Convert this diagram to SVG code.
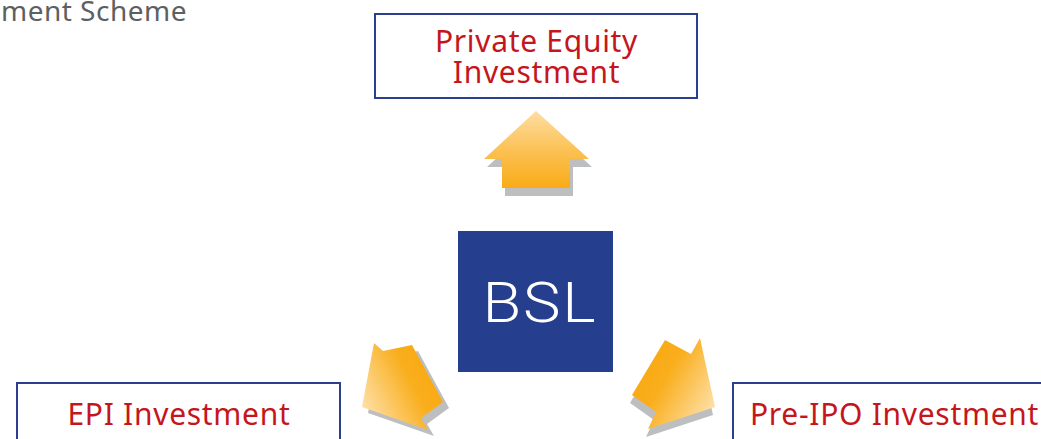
<svg xmlns="http://www.w3.org/2000/svg" width="1041" height="439" viewBox="0 0 1041 439">
<style>
.box{fill:#ffffff;stroke:#2b3f8f;stroke-width:2}
.lbl{font-family:"Noto Sans","Open Sans",sans-serif;font-size:30px;fill:#c4161c;letter-spacing:0.7px}
.shadow{fill:#bdbec0}
.title{font-family:"Noto Sans","Liberation Sans",sans-serif;font-size:28px;fill:#5e5f61;letter-spacing:0.5px}
</style>
<defs>
<linearGradient id="gTop" gradientUnits="userSpaceOnUse" x1="536" y1="111" x2="536" y2="188">
<stop offset="0" stop-color="#fedda2"/><stop offset="0.55" stop-color="#fbbf4f"/><stop offset="1" stop-color="#f9ab16"/>
</linearGradient>
<linearGradient id="gLeft" gradientUnits="userSpaceOnUse" x1="362" y1="407" x2="428" y2="373">
<stop offset="0" stop-color="#fee0a8"/><stop offset="0.75" stop-color="#f9ae1c"/><stop offset="1" stop-color="#f9ab16"/>
</linearGradient>
<linearGradient id="gRight" gradientUnits="userSpaceOnUse" x1="715" y1="407" x2="649" y2="368">
<stop offset="0" stop-color="#fee0a8"/><stop offset="0.75" stop-color="#f9ae1c"/><stop offset="1" stop-color="#f9ab16"/>
</linearGradient>
</defs>
<rect width="1041" height="439" fill="#ffffff"/>
<text class="title" x="187" y="21" text-anchor="end">ment Scheme</text>

<g id="node-private-equity">
<rect class="box" x="375" y="14" width="322" height="84"/>
<text class="lbl" x="536.5" y="52" text-anchor="middle">Private Equity</text>
<text class="lbl" x="536.5" y="83" text-anchor="middle">Investment</text>
</g>

<g id="node-bsl">
<rect x="458" y="231" width="155" height="141" fill="#253f8e"/>
<text transform="translate(540,322) scale(1.13,1)" x="0" y="0" text-anchor="middle" font-family="Roboto,'Liberation Sans',sans-serif" font-weight="300" font-size="56" letter-spacing="1.5" fill="#ffffff">BSL</text>
</g>

<g id="node-epi">
<rect class="box" x="17" y="383" width="323" height="80"/>
<text class="lbl" x="179" y="425" text-anchor="middle">EPI Investment</text>
</g>

<g id="node-preipo">
<rect class="box" x="733" y="383" width="400" height="80"/>
<text class="lbl" x="750" y="425">Pre-IPO Investment</text>
</g>

<g id="connectors">
<g id="arrow-top">
<polygon class="shadow" transform="translate(3,8)" points="536,111 589,159 570,159 570,188 502,188 502,159 484,159"/>
<polygon fill="url(#gTop)" points="536,111 589,159 570,159 570,188 502,188 502,159 484,159"/>
</g>
<g id="arrow-left">
<polygon class="shadow" transform="translate(6,6)" points="362,407 374,343 383,351 412,345 443,402 421,418 428,430"/>
<polygon fill="url(#gLeft)" points="362,407 374,343 383,351 412,345 443,402 421,418 428,430"/>
</g>
<g id="arrow-right">
<polygon class="shadow" transform="translate(-2,8)" points="715,407 700,338 691,354 665,340 632,395 656,412 648,429"/>
<polygon fill="url(#gRight)" points="715,407 700,338 691,354 665,340 632,395 656,412 648,429"/>
</g>
</g>
</svg>
